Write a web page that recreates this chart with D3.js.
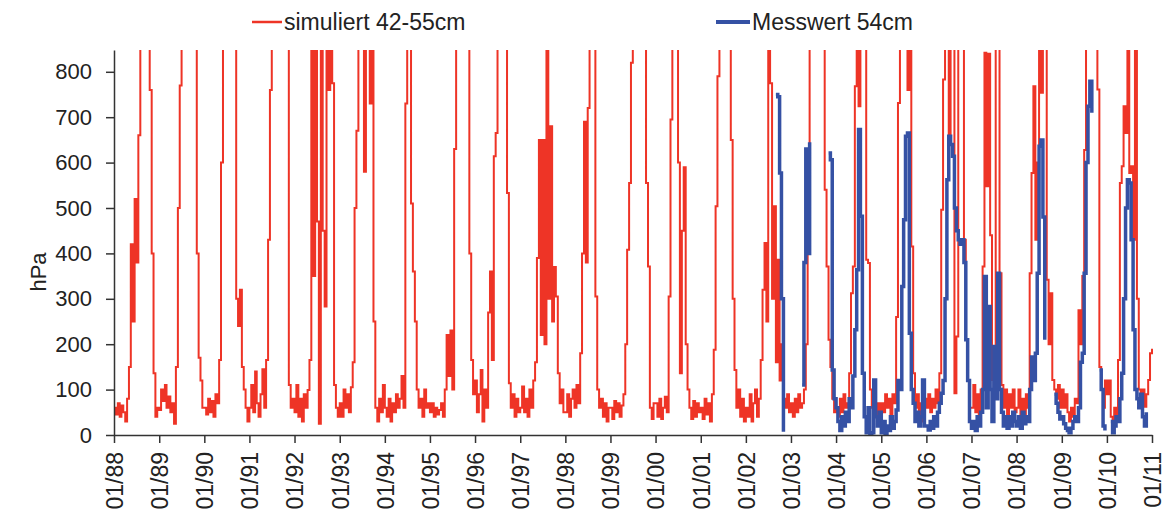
<!DOCTYPE html>
<html>
<head>
<meta charset="utf-8">
<script src="https://cdn.jsdelivr.net/npm/d3@7"></script>
<style>
body { margin: 0; background: #fff; }
text { font-family: Arial, "Liberation Sans", sans-serif; fill: #222; }
</style>
</head>
<body>
<div id="chart"></div>
<script>
// half-monthly values (1st and 16th of each month), one row per year
var simStartYear = 1988;
var simuliert = [
  [60,45,70,40,65,50,30,80,150,420,250,520,380,660,900,950,1000,1000,1000,760,400,136,40,60],   // 1988
  [55,100,75,110,60,85,50,70,25,150,500,770,1000,1000,1000,1000,1000,1000,1000,1000,400,170,120,60],
  [60,45,80,50,75,40,90,70,165,600,1000,1000,1000,1000,1000,1000,1000,300,240,320,150,100,60,30],
  [60,110,50,140,70,40,90,145,60,165,430,760,1000,1000,1000,1000,1000,1000,1000,1000,1000,110,60,80],
  [50,110,40,80,30,90,60,99,165,1000,350,1000,470,25,1000,450,283,1000,760,1000,775,110,60,40],
  [70,40,100,60,90,50,105,160,500,670,1000,1000,1000,580,1000,1000,730,1000,250,60,30,80,50,110],
  [60,40,80,30,70,50,90,60,80,130,60,730,1000,1000,510,360,250,100,60,80,40,100,60,70],
  [50,70,40,60,45,55,70,40,100,220,130,230,100,630,1000,1000,1000,1000,1000,1000,1000,400,165,90],
  [120,50,90,143,30,100,60,270,360,165,614,665,1000,1000,1000,1000,1000,533,114,60,90,40,80,50],
  [60,107,50,80,40,100,60,120,160,390,650,220,650,200,1000,300,680,250,370,305,136,70,100,50],
  [50,90,40,80,100,60,110,70,180,400,690,380,720,1000,1000,1000,305,100,60,80,40,70,30,60],
  [60,35,75,50,70,40,65,90,200,408,555,820,1000,1000,1000,1000,1000,1000,1000,555,371,60,35,70],
  [70,40,80,35,60,84,50,305,695,1000,1000,1000,600,136,450,590,200,100,60,35,75,40,70,50],   // 2000
  [60,35,80,45,70,30,90,188,504,790,1000,1000,1000,1000,1000,1000,650,300,143,60,100,40,80,30],
  [60,40,90,30,70,100,40,80,165,320,423,250,1000,775,300,504,160,386,120,200,80,60,90,50],
  [70,40,80,50,90,60,70,100,200,504,1000,1000,1000,1000,1000,1000,1000,1000,540,371,210,150,80,50],
  [60,40,80,50,90,60,70,136,312,371,768,1000,724,1000,1000,1000,386,379,100,60,90,40,70,50],
  [70,50,90,60,80,40,90,70,260,731,1000,1000,1000,1000,760,1000,415,136,60,90,40,70,30,80],
  [60,90,50,80,60,100,70,136,496,783,1000,1000,650,1000,1000,92,217,1000,1000,1000,430,210,120,60],
  [60,110,50,90,40,100,371,842,548,840,440,121,80,1000,1000,356,110,60,100,40,90,60,100,50],
  [60,100,40,80,30,90,60,356,577,768,430,600,1000,754,1000,1000,342,200,312,121,100,80,110,60],
  [100,60,90,50,30,60,40,80,70,275,200,350,628,1000,1000,1000,1000,1000,1000,761,150,100,60,120],
  [90,120,40,25,60,40,165,555,592,724,665,1000,577,592,430,1000,300,100,70,100,62,90,121,180]   // 2010
];
var simEnd = 190; // 01/11

// measured series starts 1 Sep 2002 (half-month index 16)
var messStartYear = 2002, messStartIndex = 16;
var messwert = [
  [750,745,577,300,7,null,null,null],   // 2002 (Sep-Dec)
  [null,null,null,null,null,null,110,380,630,400,645,null,null,null,null,null,null,null,null,null,621,606,143,80],
  [60,30,10,40,20,50,30,80,60,130,232,364,673,482,136,40,5,60,0,5,121,40,20,50],
  [5,30,0,20,10,40,15,30,55,120,100,327,474,658,665,224,100,70,30,50,20,40,121,20],
  [20,11,30,15,40,20,50,70,92,120,300,562,658,640,614,500,450,430,420,430,380,210,120,30],
  [15,30,10,40,20,50,100,349,60,283,100,30,195,80,356,100,50,20,40,15,40,20,50,30],
  [20,40,15,50,25,40,30,100,172,120,180,356,636,650,480,210,null,null,null,null,90,70,50,35],
  [40,25,15,10,5,15,30,40,30,60,160,180,356,600,724,779,710,null,null,null,143,100,20,10],
  [null,null,30,5,20,40,30,80,136,300,500,562,555,430,232,100,80,60,90,40,20,50]   // 2010
];

var yTicks = [0, 100, 200, 300, 400, 500, 600, 700, 800];
var xTickLabels = ["01/88","01/89","01/90","01/91","01/92","01/93","01/94","01/95","01/96","01/97","01/98","01/99",
                   "01/00","01/01","01/02","01/03","01/04","01/05","01/06","01/07","01/08","01/09","01/10","01/11"];
var seriesNames = ["simuliert 42-55cm", "Messwert 54cm"];
var seriesColors = ["#ee3426", "#3551a4"];

var svgWidth = 1166;
var svgHeight = 520;
var margin = {top: 50, right: 14, bottom: 85, left: 114};
var width = svgWidth - margin.left - margin.right;
var height = svgHeight - margin.top - margin.bottom;

function halfMonthDate(year, i) {
  return new Date(year + Math.floor(i / 24), Math.floor((i % 24) / 2), i % 2 ? 16 : 1);
}

var simData = [];
simuliert.forEach(function(row, y) {
  row.forEach(function(v, i) {
    simData.push({date: halfMonthDate(simStartYear + y, i), value: v});
  });
});
simData.push({date: new Date(2011, 0, 1), value: simEnd});

var messData = messwert.flat().map(function(v, k) {
  return {date: halfMonthDate(messStartYear, messStartIndex + k), value: v};
});

var svg = d3.select("#chart")
  .append("svg")
  .attr("width", svgWidth)
  .attr("height", svgHeight)
  .style("background", "#fff");

var chartGroup = svg.append("g")
  .attr("transform", `translate(${margin.left}, ${margin.top})`);

var xTimeScale = d3.scaleTime()
  .domain([new Date(1988, 0, 1), new Date(2011, 0, 1)])
  .range([0, width]);

var yLinearScale = d3.scaleLinear()
  .domain([0, 848])
  .range([height, 0]);

svg.append("defs").append("clipPath")
  .attr("id", "plotClip")
  .append("rect")
  .attr("x", 0)
  .attr("y", 0)
  .attr("width", width + 1)
  .attr("height", height + 1);

var line = d3.line()
  .defined(d => d.value != null)
  .x(d => xTimeScale(d.date))
  .y(d => yLinearScale(d.value))
  .curve(d3.curveStepAfter);

var plot = chartGroup.append("g").attr("clip-path", "url(#plotClip)");

plot.append("path")
  .datum(simData)
  .attr("fill", "none")
  .attr("stroke", seriesColors[0])
  .attr("stroke-width", 2)
  .attr("d", line);

plot.append("path")
  .datum(messData)
  .attr("fill", "none")
  .attr("stroke", seriesColors[1])
  .attr("stroke-width", 3.5)
  .attr("d", line);

// axes
var leftAxis = d3.axisLeft(yLinearScale)
  .tickValues(yTicks)
  .tickSize(8)
  .tickSizeOuter(0)
  .tickPadding(14);

var yAxis = chartGroup.append("g").call(leftAxis);
yAxis.selectAll("text").style("font-size", "22px").style("fill", "#222");

var xTickDates = xTickLabels.map((l, i) => new Date(1988 + i, 0, 1));
var bottomAxis = d3.axisBottom(xTimeScale)
  .tickValues(xTickDates)
  .tickSize(8)
  .tickSizeOuter(0)
  .tickFormat((d, i) => xTickLabels[i]);

var xAxis = chartGroup.append("g")
  .attr("transform", `translate(0, ${height})`)
  .call(bottomAxis);

xAxis.selectAll("text")
  .attr("transform", "rotate(-90)")
  .attr("text-anchor", "end")
  .attr("x", -17)
  .attr("y", 0)
  .attr("dy", "0.36em")
  .style("font-size", "23px")
  .style("fill", "#222");

[yAxis, xAxis].forEach(function(ax) {
  ax.select(".domain").attr("stroke", "#333").attr("stroke-width", 1.5);
  ax.selectAll(".tick line").attr("stroke", "#333").attr("stroke-width", 1.5);
});

// y label
svg.append("text")
  .attr("transform", "translate(46, 272) rotate(-90)")
  .attr("text-anchor", "middle")
  .style("font-size", "22px")
  .text("hPa");

// legend
var legendX = [252, 716];
var legend = svg.selectAll(".legend")
  .data(seriesNames)
  .enter()
  .append("g")
  .attr("transform", (d, i) => `translate(${legendX[i]}, 22)`);

legend.append("line")
  .attr("x1", 0)
  .attr("x2", (d, i) => i === 0 ? 30 : 34)
  .attr("stroke", (d, i) => seriesColors[i])
  .attr("stroke-width", (d, i) => i === 0 ? 2.5 : 4);

legend.append("text")
  .attr("x", (d, i) => i === 0 ? 32 : 36)
  .attr("dy", "0.36em")
  .style("font-size", "23px")
  .text(d => d);
</script>
</body>
</html>
